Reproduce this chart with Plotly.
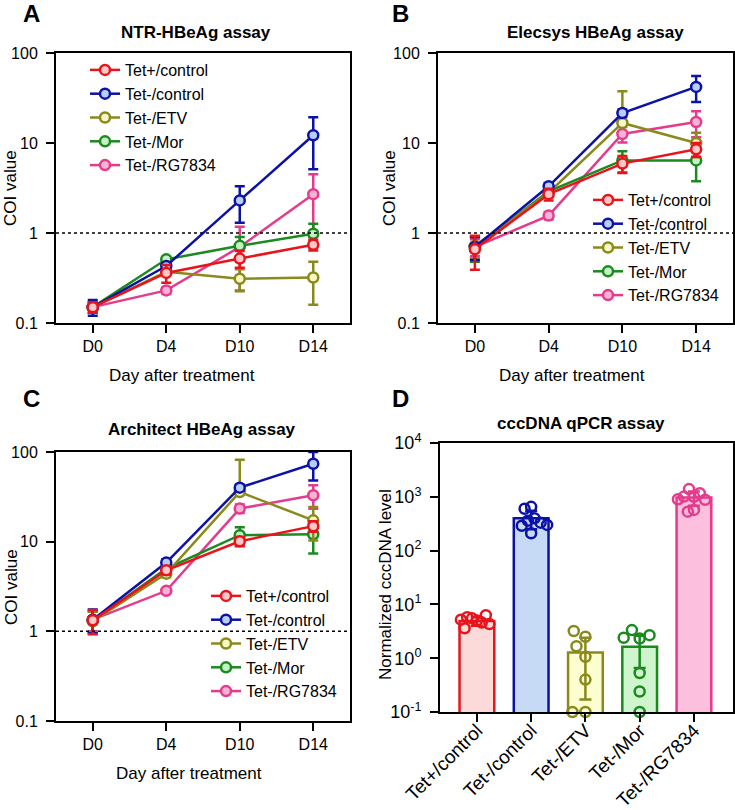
import numpy as np
import plotly.graph_objects as go

W, H = 735, 810
FONT = "Arial, Liberation Sans, Helvetica, sans-serif"

days = ["D0", "D4", "D10", "D14"]
groups = ["Tet+/control", "Tet-/control", "Tet-/ETV", "Tet-/Mor", "Tet-/RG7834"]

line_colors = ["#e8141c", "#0c12a8", "#8a8a1c", "#1a8a1f", "#e43b8c"]
marker_fills = ["#ffc9c9", "#b9cef5", "#f7f7c4", "#c4f2c4", "#f7b3d3"]
bar_fills = ["#fddada", "#c6daf6", "#fdfdd2", "#cef5ce", "#fcbfdd"]

# NTR-HBeAg assay (rows follow groups)
ntr_mean = [[0.15, 0.36, 0.52, 0.74],
            [0.15, 0.43, 2.3, 12.2],
            [0.15, 0.37, 0.31, 0.32],
            [0.15, 0.51, 0.72, 0.98],
            [0.15, 0.23, 0.70, 2.7]]
ntr_sd = [[0.02, 0.08, 0.11, 0.10],
          [0.03, 0.03, 1.0, 7.1],
          [0.02, 0.02, 0.085, 0.16],
          [0.02, 0.03, 0.18, 0.29],
          [0.02, 0.02, 0.47, 1.8]]

# Elecsys HBeAg assay
elecsys_mean = [[0.66, 2.7, 5.9, 8.5],
                [0.70, 3.3, 21.5, 42.0],
                [0.72, 2.8, 16.7, 10.0],
                [0.70, 2.9, 6.4, 6.4],
                [0.70, 1.56, 12.6, 17.1]]
elecsys_sd = [[0.27, 0.4, 1.25, 1.5],
              [0.2, 0.3, 2.0, 13.5],
              [0.2, 0.3, 21.0, 3.0],
              [0.22, 0.3, 1.7, 2.65],
              [0.15, 0.15, 2.5, 5.5]]

# Architect HBeAg assay
architect_mean = [[1.33, 4.8, 10.1, 14.9],
                  [1.35, 5.85, 40.0, 74.0],
                  [1.30, 4.4, 35.8, 17.3],
                  [1.30, 5.0, 11.8, 12.1],
                  [1.35, 2.83, 23.4, 32.9]]
architect_sd = [[0.4, 0.5, 1.2, 2.0],
                [0.4, 0.5, 3.0, 26.0],
                [0.35, 0.4, 46.0, 7.0],
                [0.35, 0.4, 2.7, 4.7],
                [0.35, 0.2, 2.5, 9.6]]

cutoff = 1

# cccDNA qPCR assay
ccc_mean = [4.9, 400, 1.28, 1.63, 970]
ccc_sd = [0.9, 150, 1.11, 0.97, 290]
ccc_points = [[5.0, 5.5, 4.6, 6.3, 5.8, 4.3, 3.6, 5.2],
              [650, 600, 400, 360, 330, 290, 300, 210],
              [2.5, 3.2, 1.67, 1.06, 0.4, 0.1, 0.1],
              [2.32, 3.33, 2.68, 2.4, 0.53, 0.24, 0.1],
              [1000, 1390, 1170, 1010, 880, 570, 530, 900]]


def px(x):
    return x / W


def py(y):
    return 1 - y / H


def swarm(values, per_decade=53.8, per_unit=54.3, d=13.0, max_half=16.0):
    # simple beeswarm, squeezed so each group stays about as wide as its bar
    placed, offsets = [], []
    for v in values:
        y = np.log10(v) * per_decade
        cands = [0.0]
        for cx, cy in placed:
            dy = abs(cy - y)
            if dy < d:
                dx = np.sqrt(d * d - dy * dy)
                cands += [cx - dx, cx + dx]
        cands.sort(key=abs)
        for c in cands:
            if all((c - cx) ** 2 + (y - cy) ** 2 >= d * d - 1e-6 for cx, cy in placed):
                break
        placed.append((c, y))
        offsets.append(c)
    widest = max(abs(o) for o in offsets)
    k = min(1.0, max_half / widest) if widest > 0 else 1.0
    return [o * k / per_unit for o in offsets]


fig = go.Figure()

panels = [("x", "y", "legend", ntr_mean, ntr_sd),
          ("x2", "y2", "legend2", elecsys_mean, elecsys_sd),
          ("x3", "y3", "legend3", architect_mean, architect_sd)]

for xa, ya, lg, means, sds in panels:
    # draw in reverse so Tet+/control ends on top
    for i in reversed(range(len(groups))):
        m = means[i]
        s = sds[i]
        minus = [e if e < v else 0 for v, e in zip(m, s)]
        fig.add_trace(go.Scatter(
            x=days, y=m, xaxis=xa, yaxis=ya, legend=lg,
            name=groups[i], mode="lines+markers",
            line=dict(color=line_colors[i], width=2.5),
            marker=dict(size=10, color=marker_fills[i],
                        line=dict(color=line_colors[i], width=2.5)),
            error_y=dict(type="data", array=s, arrayminus=minus,
                         color=line_colors[i], thickness=2.5, width=5),
        ))
    fig.add_shape(type="line", xref=f"{xa} domain", yref=ya,
                  x0=0, x1=1, y0=cutoff, y1=cutoff,
                  line=dict(color="black", width=1.5, dash="3px,3px"))

# panel D bars + points
for i in range(len(groups)):
    fig.add_trace(go.Bar(
        x=[i], y=[ccc_mean[i]], xaxis="x4", yaxis="y4", width=0.64,
        showlegend=False,
        marker=dict(color=bar_fills[i], line=dict(color=line_colors[i], width=2.5)),
        error_y=dict(type="data", array=[ccc_sd[i]], color=line_colors[i],
                     thickness=2.5, width=6),
    ))
for i in range(len(groups)):
    offs = swarm(ccc_points[i])
    fig.add_trace(go.Scatter(
        x=[i + o for o in offs], y=ccc_points[i], xaxis="x4", yaxis="y4",
        mode="markers", showlegend=False, cliponaxis=False,
        marker=dict(size=10, color="rgba(0,0,0,0)",
                    line=dict(color=line_colors[i], width=2.5)),
    ))

base = dict(showline=True, linewidth=2, linecolor="black", mirror=True,
            ticks="outside", ticklen=8, tickwidth=2, tickcolor="black",
            showgrid=False, zeroline=False, automargin=False,
            tickfont=dict(family=FONT, size=16, color="black"))

coi_y = dict(base, type="log", range=[-1, 2], tickvals=[0.1, 1, 10, 100],
             ticktext=["0.1", "1", "10", "100"], ticklabelstandoff=5)
day_x = dict(base, type="category", range=[-0.5, 3.5],
             categoryorder="array", categoryarray=days)

dom_left = [px(56), px(350)]
dom_right = [px(438), px(733)]
dom_top = [py(323), py(53)]
dom_bot = [py(721), py(452)]

exps = [-1, 0, 1, 2, 3, 4]

fig.update_layout(
    template="none",
    width=W, height=H, margin=dict(l=0, r=0, t=0, b=0, pad=0),
    paper_bgcolor="white", plot_bgcolor="white",
    font=dict(family=FONT, color="black"),
    barmode="overlay",
    xaxis=dict(day_x, domain=dom_left, anchor="y"),
    yaxis=dict(coi_y, domain=dom_top, anchor="x"),
    xaxis2=dict(day_x, domain=dom_right, anchor="y2"),
    yaxis2=dict(coi_y, domain=dom_top, anchor="x2"),
    xaxis3=dict(day_x, domain=dom_left, anchor="y3"),
    yaxis3=dict(coi_y, domain=dom_bot, anchor="x3"),
    xaxis4=dict(base, domain=[px(440), px(733)], anchor="y4", range=[-0.68, 4.72],
                tickvals=list(range(len(groups))), ticktext=groups, tickangle=-45,
                ticklabelstandoff=-10,
                tickfont=dict(family=FONT, size=19, color="black")),
    yaxis4=dict(base, type="log", range=[-1, 4], domain=[py(712), py(443)], anchor="x4",
                tickvals=[10.0 ** e for e in exps],
                ticktext=[f"10<sup>{e}</sup>" for e in exps], ticklabelstandoff=5,
                tickfont=dict(family=FONT, size=18, color="black")),
)

leg = dict(bgcolor="rgba(0,0,0,0)", traceorder="reversed", xanchor="left", yanchor="top",
           font=dict(family=FONT, size=16, color="black"), itemclick=False,
           borderwidth=0)
fig.update_layout(
    legend=dict(leg, x=px(85), y=py(53)),
    legend2=dict(leg, x=px(588), y=py(183)),
    legend3=dict(leg, x=px(206), y=py(579)),
)

annos = [
    ("A", 32, 14, 24, True, 0), ("B", 400, 14, 24, True, 0),
    ("C", 32, 398, 24, True, 0), ("D", 400, 398, 24, True, 0),
    ("NTR-HBeAg assay", 196, 32, 17, True, 0),
    ("Elecsys HBeAg assay", 595, 32, 17, True, 0),
    ("Architect HBeAg assay", 202, 429, 17, True, 0),
    ("cccDNA qPCR assay", 581, 423, 17, True, 0),
    ("COI value", 11, 188, 17, False, -90),
    ("COI value", 390, 188, 17, False, -90),
    ("COI value", 11, 587, 17, False, -90),
    ("Normalized cccDNA level", 385, 585, 17, False, -90),
    ("Day after treatment", 182, 375, 17, False, 0),
    ("Day after treatment", 572, 375, 17, False, 0),
    ("Day after treatment", 189, 773, 17, False, 0),
]
for text, x, y, size, bold, ang in annos:
    fig.add_annotation(
        text=f"<b>{text}</b>" if bold else text, x=px(x), y=py(y),
        xref="paper", yref="paper", showarrow=False, textangle=ang,
        xanchor="center", yanchor="middle",
        font=dict(family=FONT, size=size, color="black"),
    )

# the page body has a default 8px margin; drop it so the figure sits at 0,0
fig.write_html("out.html", config={"displayModeBar": False},
               post_script="document.body.style.margin='0px';")
